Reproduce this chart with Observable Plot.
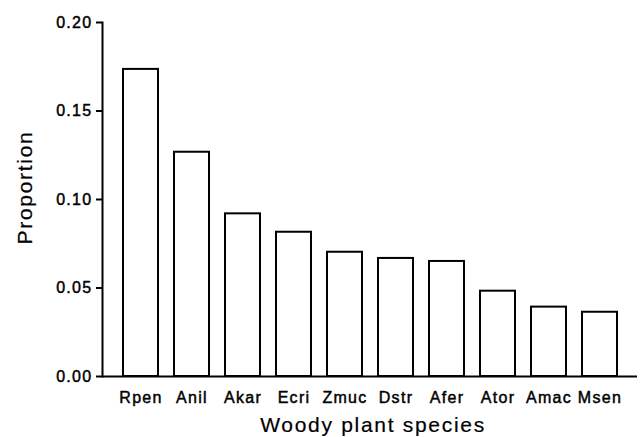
<!DOCTYPE html>
<html>
<head>
<meta charset="utf-8">
<script src="https://cdn.jsdelivr.net/npm/d3@7"></script>
<script src="https://cdn.jsdelivr.net/npm/@observablehq/plot@0.6"></script>
<style>
  html, body { margin: 0; padding: 0; background: #fff; }
  #chart svg { display: block; }
  #chart text { letter-spacing: 1.3px; stroke: #000; stroke-width: 0.45px; }
  #chart g[aria-label="text"] text { letter-spacing: 1.7px; stroke-width: 0.2px; }
</style>
</head>
<body>
<div id="chart"></div>
<script>
const species = ["Rpen", "Anil", "Akar", "Ecri", "Zmuc", "Dstr", "Afer", "Ator", "Amac", "Msen"];
const proportion = [0.1735, 0.1267, 0.0919, 0.0815, 0.0702, 0.0667, 0.065, 0.0482, 0.0392, 0.0363];
const yTicks = [0, 0.05, 0.10, 0.15, 0.20];
const xTitle = "Woody plant species";
const yTitle = "Proportion";

const data = species.map((s, i) => ({species: s, value: proportion[i]}));

const chart = Plot.plot({
  width: 643,
  height: 437,
  marginLeft: 102,
  marginRight: 6,
  marginTop: 22,
  marginBottom: 61,
  style: {fontFamily: "'Liberation Sans', Arial, sans-serif", fontSize: "16px", color: "#000", background: "#fff"},
  x: {domain: species, padding: 0.32, paddingOuter: 0.35, axis: null},
  y: {domain: [0, 0.2], axis: null},
  marks: [
    Plot.barY(data, {x: "species", y: "value", fill: "white", stroke: "black", strokeWidth: 2}),
    Plot.axisY({ticks: yTicks, tickFormat: d3.format(".2f"), tickSize: 6, tickPadding: 4, strokeWidth: 2, label: null, fontSize: 16}),
    Plot.frame({anchor: "left", strokeWidth: 2}),
    Plot.ruleY([0], {strokeWidth: 2}),
    Plot.axisX({tickSize: 0, tickPadding: 15, label: null, fontSize: 16}),
    Plot.text([xTitle], {frameAnchor: "bottom", text: d => d, dy: 49, dx: 3, fontSize: 21, lineAnchor: "middle", textAnchor: "middle"}),
    Plot.text([yTitle], {frameAnchor: "left", text: d => d, rotate: -90, dx: -77, dy: -12, fontSize: 21, lineAnchor: "middle", textAnchor: "middle"})
  ]
});
document.getElementById("chart").appendChild(chart);
</script>
</body>
</html>
